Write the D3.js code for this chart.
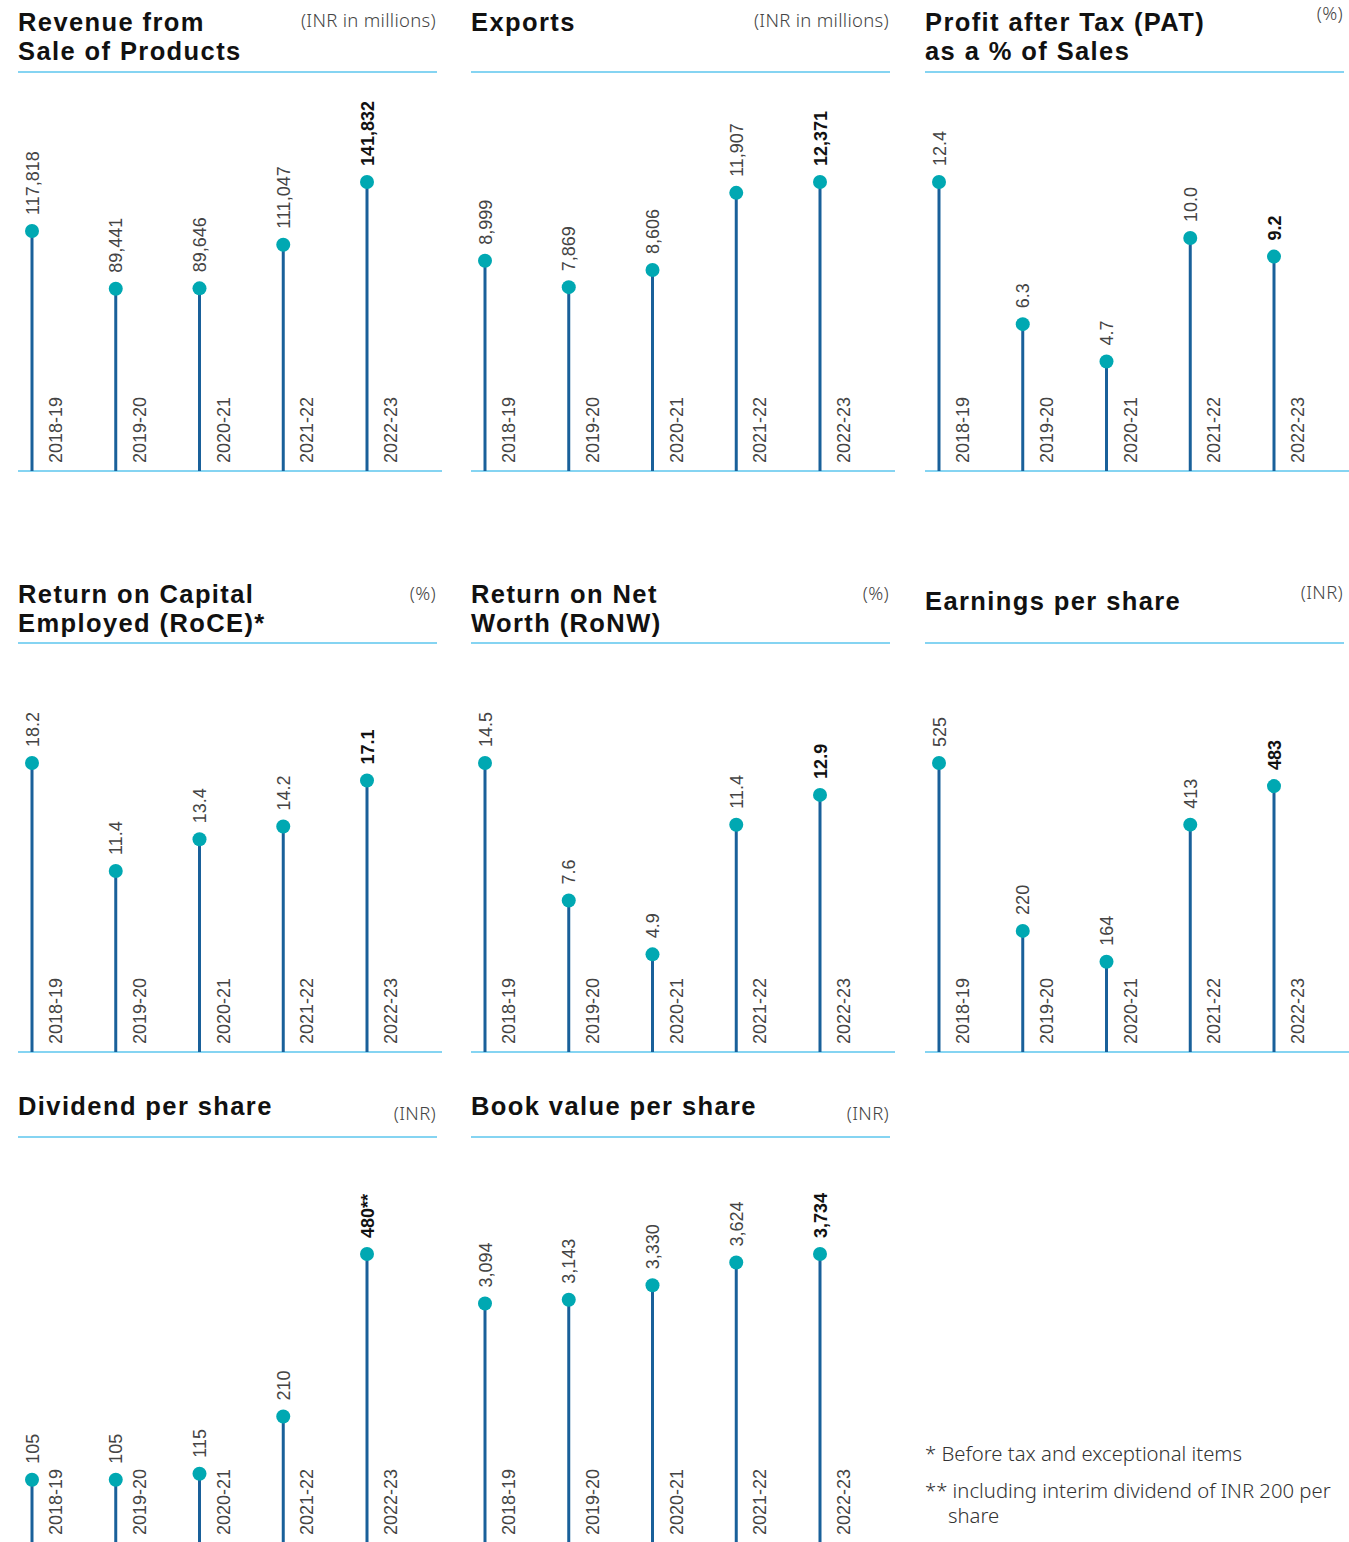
<!DOCTYPE html>
<html>
<head>
<meta charset="utf-8">
<script src="https://cdn.jsdelivr.net/npm/d3@7"></script>
<style>
  html, body { margin: 0; padding: 0; background: #fff; }
  svg { display: block; }
</style>
</head>
<body>
<svg id="chart" width="1349" height="1542"></svg>
<script>
// ---------- DATA ----------
const years = ["2018-19", "2019-20", "2020-21", "2021-22", "2022-23"];

const revenueValues  = [117818, 89441, 89646, 111047, 141832];
const exportsValues  = [8999, 7869, 8606, 11907, 12371];
const patValues      = [12.4, 6.3, 4.7, 10.0, 9.2];
const roceValues     = [18.2, 11.4, 13.4, 14.2, 17.1];
const ronwValues     = [14.5, 7.6, 4.9, 11.4, 12.9];
const epsValues      = [525, 220, 164, 413, 483];
const dividendValues = [105, 105, 115, 210, 480];
const bookValues     = [3094, 3143, 3330, 3624, 3734];

const revenueLabels  = ["117,818", "89,441", "89,646", "111,047", "141,832"];
const exportsLabels  = ["8,999", "7,869", "8,606", "11,907", "12,371"];
const patLabels      = ["12.4", "6.3", "4.7", "10.0", "9.2"];
const roceLabels     = ["18.2", "11.4", "13.4", "14.2", "17.1"];
const ronwLabels     = ["14.5", "7.6", "4.9", "11.4", "12.9"];
const epsLabels      = ["525", "220", "164", "413", "483"];
const dividendLabels = ["105", "105", "115", "210", "480**"];
const bookLabels     = ["3,094", "3,143", "3,330", "3,624", "3,734"];

const panelTitles = [
  ["Revenue from", "Sale of Products"],
  ["Exports"],
  ["Profit after Tax (PAT)", "as a % of Sales"],
  ["Return on Capital", "Employed (RoCE)*"],
  ["Return on Net", "Worth (RoNW)"],
  ["Earnings per share"],
  ["Dividend per share"],
  ["Book value per share"]
];
const panelUnits = ["(INR in millions)", "(INR in millions)", "(%)", "(%)", "(%)", "(INR)", "(INR)", "(INR)"];

const footnotes = ["* Before tax and exceptional items", "** including interim dividend of INR 200 per", "share"];

// ---------- LAYOUT ----------
const panels = [
  { values: revenueValues,  labels: revenueLabels },
  { values: exportsValues,  labels: exportsLabels },
  { values: patValues,      labels: patLabels },
  { values: roceValues,     labels: roceLabels },
  { values: ronwValues,     labels: ronwLabels },
  { values: epsValues,      labels: epsLabels },
  { values: dividendValues, labels: dividendLabels },
  { values: bookValues,     labels: bookLabels }
];

const colX = [18, 471, 925];
const rows = [
  { header: 72,   base: 471,  titleY: 31,   singleY: 31,   unitY: 27 },
  { header: 643,  base: 1052, titleY: 603,  singleY: 610,  unitY: 600 },
  { header: 1137, base: 1543, titleY: 1115, singleY: 1115, unitY: 1120 }
];
const unitYOverride = { 2: 20, 5: 599 };
const panelW = 424, headerW = 419, maxH = 289, titleLead = 29;

const teal = "#00a8b2", stemColor = "#19609a", lineColor = "#5cc6ee";
const titleFont = "'Liberation Sans', Arial, sans-serif";
const labelFont = "'Liberation Sans', Arial, sans-serif";
const unitFont = "'Noto Sans', 'Open Sans', sans-serif";

const svg = d3.select("#chart");

panels.forEach((p, i) => {
  const r = rows[Math.floor(i / 3)];
  const x0 = colX[i % 3];
  const g = svg.append("g").attr("transform", `translate(${x0},0)`);

  // title (one text element, lines as tspans)
  const tl = panelTitles[i];
  const title = g.append("text")
    .attr("x", 0)
    .attr("y", tl.length === 1 ? r.singleY : r.titleY)
    .attr("font-family", titleFont)
    .attr("font-weight", 700)
    .attr("font-size", 25.5)
    .attr("letter-spacing", 1.4)
    .attr("fill", "#111");
  tl.forEach((t, k) => {
    title.append("tspan")
      .attr("x", 0)
      .attr("dy", k === 0 ? 0 : titleLead)
      .text(t);
  });
  // unit
  g.append("text")
    .attr("x", headerW - 1)
    .attr("y", unitYOverride[i] !== undefined ? unitYOverride[i] : r.unitY)
    .attr("text-anchor", "end")
    .attr("font-family", unitFont)
    .attr("font-weight", 300)
    .attr("font-size", 18.5)
    .attr("letter-spacing", 0.3)
    .attr("fill", "#444")
    .text(panelUnits[i]);
  // header rule
  g.append("line")
    .attr("x1", 0).attr("x2", headerW)
    .attr("y1", r.header).attr("y2", r.header)
    .attr("stroke", lineColor).attr("stroke-width", 1.5);

  const x = d3.scalePoint().domain(years).range([14, 349]);
  const y = d3.scaleLinear().domain([0, d3.max(p.values)]).range([r.base, r.base - maxH]);

  const data = years.map((yr, k) => ({ yr, v: p.values[k], label: p.labels[k], last: k === years.length - 1 }));

  // baseline
  g.append("line")
    .attr("x1", 0).attr("x2", panelW)
    .attr("y1", r.base).attr("y2", r.base)
    .attr("stroke", lineColor).attr("stroke-width", 1.5);

  // stems
  g.selectAll(".stem").data(data).join("line")
    .attr("x1", d => x(d.yr)).attr("x2", d => x(d.yr))
    .attr("y1", r.base).attr("y2", d => y(d.v))
    .attr("stroke", stemColor).attr("stroke-width", 3);

  // dots
  g.selectAll(".dot").data(data).join("circle")
    .attr("cx", d => x(d.yr)).attr("cy", d => y(d.v)).attr("r", 7)
    .attr("fill", teal);

  // value labels
  g.selectAll(".val").data(data).join("text")
    .attr("transform", d => `translate(${x(d.yr) + 6.5},${y(d.v) - 16}) rotate(-90)`)
    .attr("font-family", labelFont)
    .attr("font-size", 18)
    .attr("font-weight", d => d.last ? 700 : 400)
    .attr("fill", d => d.last ? "#111" : "#444")
    .text(d => d.label);

  // year labels
  g.selectAll(".yr").data(data).join("text")
    .attr("transform", d => `translate(${x(d.yr) + 30},${r.base - 8}) rotate(-90)`)
    .attr("font-family", labelFont)
    .attr("font-size", 18)
    .attr("fill", "#444")
    .text(d => d.yr);
});

// footnotes
const fy = [1461, 1498, 1523], fx = [925, 925, 948];
footnotes.forEach((t, k) => {
  svg.append("text").attr("x", fx[k]).attr("y", fy[k])
    .attr("font-family", unitFont).attr("font-size", 20.3).attr("font-weight", 300).attr("fill", "#333")
    .text(t);
});
</script>
</body>
</html>
